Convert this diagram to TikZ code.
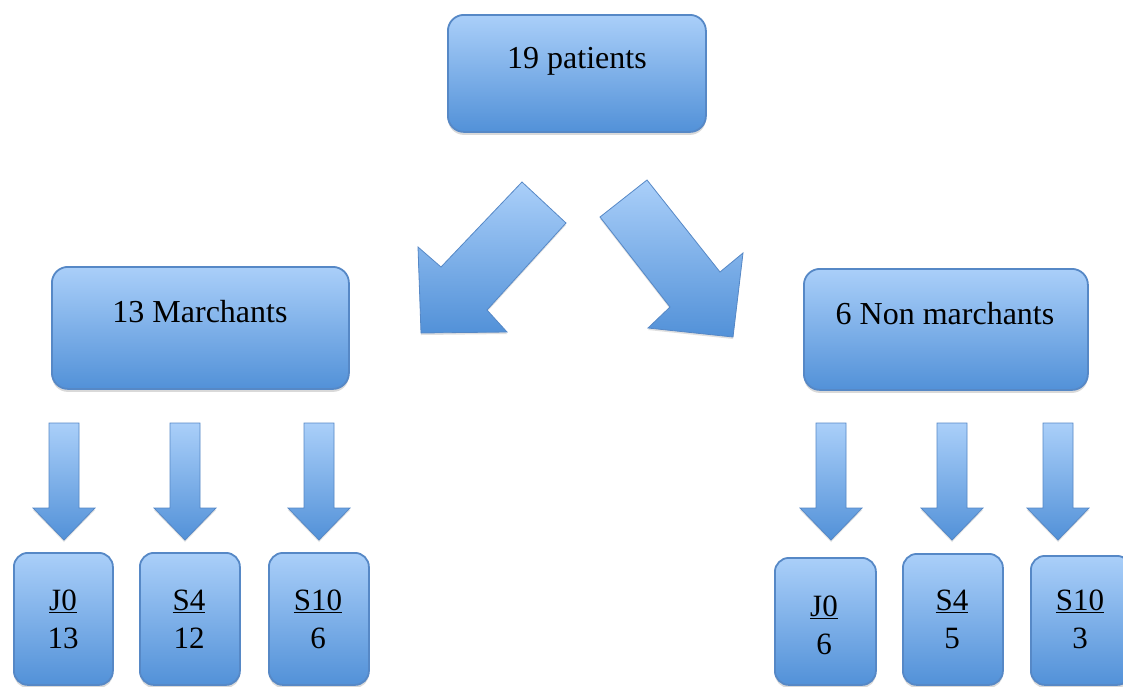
\documentclass[tikz,border=0pt]{standalone}
\usepackage{fontspec}
\setmainfont{Liberation Serif}
\usetikzlibrary{shadows}
\definecolor{btop}{RGB}{170,207,249}
\definecolor{bbot}{RGB}{82,145,216}
\definecolor{bline}{RGB}{86,136,198}
\begin{document}
\begin{tikzpicture}[x=1pt,y=-1pt,
  box/.style={draw=bline, line width=1.8pt, rounded corners=16pt, top color=btop, bottom color=bbot,
    inner sep=0pt, anchor=north west,
    drop shadow={opacity=0.25, shadow xshift=0pt, shadow yshift=-3pt, fill=black!60}},
  bigtxt/.style={font=\fontsize{32}{36}\selectfont, inner sep=0pt},
  smalltxt/.style={font=\fontsize{31}{38}\selectfont, align=center, inner sep=0pt},
  arr/.style={draw=bline, line width=0.8pt, top color=btop, bottom color=bbot,
    drop shadow={opacity=0.2, shadow xshift=0pt, shadow yshift=-2pt, fill=black!60}},
  downarr/.pic={\path[arr] (-15,0) -- (15,0) -- (15,85) -- (31,85) -- (0,117) -- (-31,85) -- (-15,85) -- cycle;}
]
\useasboundingbox (0,0) rectangle (1123,686);
\clip (0,0) rectangle (1123,686);

% main boxes
\node[box, minimum width=258pt, minimum height=117pt] (top) at (447,14) {};
\node[bigtxt] (toptxt) at (577,61) {19 patients};
\node[box, minimum width=297pt, minimum height=122pt] (mar) at (51,266) {};
\node[bigtxt] (martxt) at (200,312) {13 Marchants};
\node[box, minimum width=284pt, minimum height=121pt] (non) at (803,268) {};
\node[bigtxt] (nontxt) at (945,314) {6 Non marchants};

% big block arrows
\path[arr] (522,182) -- (566,223) -- (487,310) -- (507,332) -- (421,333) -- (418,247) -- (441,267) -- cycle;
\path[arr] (647,180) -- (720,272) -- (743,253) -- (733,337) -- (648,328) -- (670,307) -- (600,217) -- cycle;

% small arrows
\pic at (64,423) {downarr};
\pic at (185,423) {downarr};
\pic at (319,423) {downarr};
\pic at (831,423) {downarr};
\pic at (952,423) {downarr};
\pic at (1058,423) {downarr};

% small boxes
\node[box, rounded corners=14pt, minimum width=99pt, minimum height=132pt] (m1) at (13,552) {};
\node[smalltxt] (m1t) at (63,619) {\underline{J0}\\13};
\node[box, rounded corners=14pt, minimum width=100pt, minimum height=132pt] (m2) at (139,552) {};
\node[smalltxt] (m2t) at (189,619) {\underline{S4}\\12};
\node[box, rounded corners=14pt, minimum width=100pt, minimum height=132pt] (m3) at (268,552) {};
\node[smalltxt] (m3t) at (318,619) {\underline{S10}\\6};

\node[box, rounded corners=14pt, minimum width=101pt, minimum height=127pt] (n1) at (774,557) {};
\node[smalltxt] (n1t) at (824,625) {\underline{J0}\\6};
\node[box, rounded corners=14pt, minimum width=100pt, minimum height=131pt] (n2) at (902,553) {};
\node[smalltxt] (n2t) at (952,619) {\underline{S4}\\5};
\node[box, rounded corners=14pt, minimum width=100pt, minimum height=129pt] (n3) at (1030,555) {};
\node[smalltxt] (n3t) at (1080,619) {\underline{S10}\\3};
\end{tikzpicture}
\end{document}
